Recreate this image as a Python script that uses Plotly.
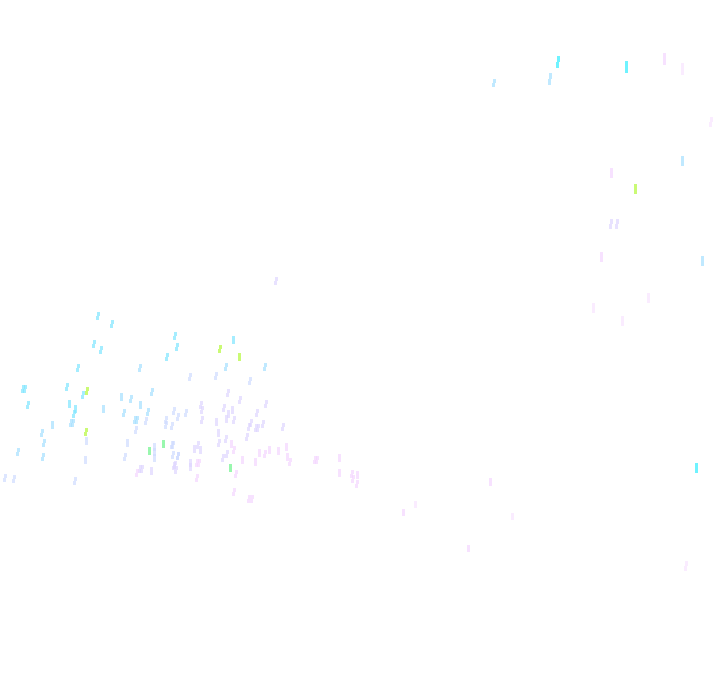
import plotly.graph_objects as go

cyan_x = [558, 626, 696]
cyan_y = [62, 67, 468]
aqua_x = [98, 112, 94, 101, 78, 23, 25, 67, 83, 28, 69, 75, 74, 175, 177, 167, 233]
aqua_y = [316, 324, 344, 350, 368, 389, 389, 387, 395, 405, 404, 409, 414, 336, 347, 357, 340]
sky_x = [103, 52, 71, 73, 42, 44, 18, 43, 121, 140, 226, 265, 152, 131, 124, 135, 137, 550, 494, 682, 702, 140, 148]
sky_y = [409, 425, 423, 423, 433, 443, 452, 457, 397, 368, 367, 367, 392, 399, 413, 420, 420, 79, 83, 161, 261, 405, 412]
ice_x = [86, 85, 5, 14, 75, 190, 216, 250, 127, 136, 125, 146, 166, 166, 172, 174, 178, 186, 154, 154, 154, 172, 178, 173, 173, 178]
ice_y = [441, 460, 478, 479, 481, 377, 376, 381, 443, 430, 457, 421, 420, 425, 426, 411, 417, 413, 447, 452, 458, 445, 456, 455, 445, 456]
lav_x = [228, 240, 266, 201, 224, 232, 202, 228, 257, 226, 234, 202, 216, 251, 263, 249, 256, 258, 283, 218, 226, 247, 219, 198, 194, 200, 223, 227, 175, 176, 140, 142, 151, 174, 190, 190, 611, 617, 276]
lav_y = [393, 400, 404, 405, 408, 410, 410, 414, 413, 419, 420, 420, 422, 423, 424, 427, 428, 428, 427, 433, 439, 437, 443, 445, 449, 450, 458, 454, 465, 470, 469, 469, 471, 466, 463, 467, 224, 224, 281]
pink_x = [231, 234, 242, 255, 259, 265, 269, 278, 286, 287, 290, 197, 199, 236, 197, 137, 234, 249, 252, 315, 317, 339, 339, 352, 357, 353, 357, 664, 611, 601, 490, 403, 468]
pink_y = [444, 450, 460, 462, 453, 454, 450, 451, 447, 457, 462, 463, 463, 474, 478, 473, 492, 499, 499, 460, 460, 458, 473, 474, 475, 479, 484, 59, 173, 257, 482, 512, 548]
blush_x = [682, 415, 512, 648, 593, 622, 686, 711]
blush_y = [69, 504, 516, 298, 308, 321, 566, 122]
lime_x = [87, 220, 239, 635, 86]
lime_y = [391, 349, 357, 189, 432]
green_x = [163, 149, 230]
green_y = [444, 451, 468]

series = [
    (cyan_x, cyan_y, "#33eeff"),
    (aqua_x, aqua_y, "#80e6ff"),
    (sky_x, sky_y, "#a6e0ff"),
    (ice_x, ice_y, "#cfdcff"),
    (lav_x, lav_y, "#dfd6ff"),
    (pink_x, pink_y, "#f5d6ff"),
    (blush_x, blush_y, "#f9e4ff"),
    (lime_x, lime_y, "#b4f83c"),
    (green_x, green_y, "#6ef58c"),
]

# marks drawn upright in the reference; every other mark leans slightly
upright = {(626, 67), (696, 468), (103, 409), (233, 340), (140, 405), (121, 397), (69, 404),
           (86, 441), (85, 460), (682, 161), (702, 261), (611, 173), (601, 257), (635, 189),
           (239, 357), (163, 444), (149, 451), (230, 468), (339, 458), (339, 473), (357, 475),
           (490, 482), (415, 504), (403, 512), (512, 516), (468, 548), (648, 298), (593, 308),
           (622, 321), (682, 69), (232, 410), (228, 414), (226, 419), (216, 422), (218, 433),
           (231, 444), (194, 449), (200, 450), (242, 460), (255, 462), (259, 453), (278, 451),
           (286, 447), (287, 457), (269, 450), (154, 447), (154, 452), (154, 458), (190, 463),
           (190, 467), (151, 471), (127, 443), (75, 409), (52, 425), (664, 59)}


def mark_height(x, y):
    if x > 540 and y < 100:
        return 9
    if x > 540:
        return 7
    if x > 400 and y > 500:
        return 5
    return 6


fig = go.Figure()
for xs, ys, color in series:
    fig.add_trace(go.Scatter(
        x=xs, y=ys, mode="markers", hoverinfo="skip",
        marker=dict(symbol="line-ns", color=color,
                    size=[mark_height(x, y) for x, y in zip(xs, ys)],
                    angle=[0 if (x, y) in upright else 9 for x, y in zip(xs, ys)],
                    line=dict(width=3, color=color)),
    ))

fig.update_layout(
    width=720, height=692, showlegend=False,
    margin=dict(l=0, r=0, t=0, b=0),
    paper_bgcolor="white", plot_bgcolor="white",
    xaxis=dict(range=[0, 720], visible=False),
    yaxis=dict(range=[692, 0], visible=False),
)
fig.write_html(
    "out.html", config={"displayModeBar": False},
    post_script="document.body.style.margin='0';"
                "document.querySelectorAll('.point').forEach(function(p){"
                "p.style.shapeRendering='crispEdges';});",
)
